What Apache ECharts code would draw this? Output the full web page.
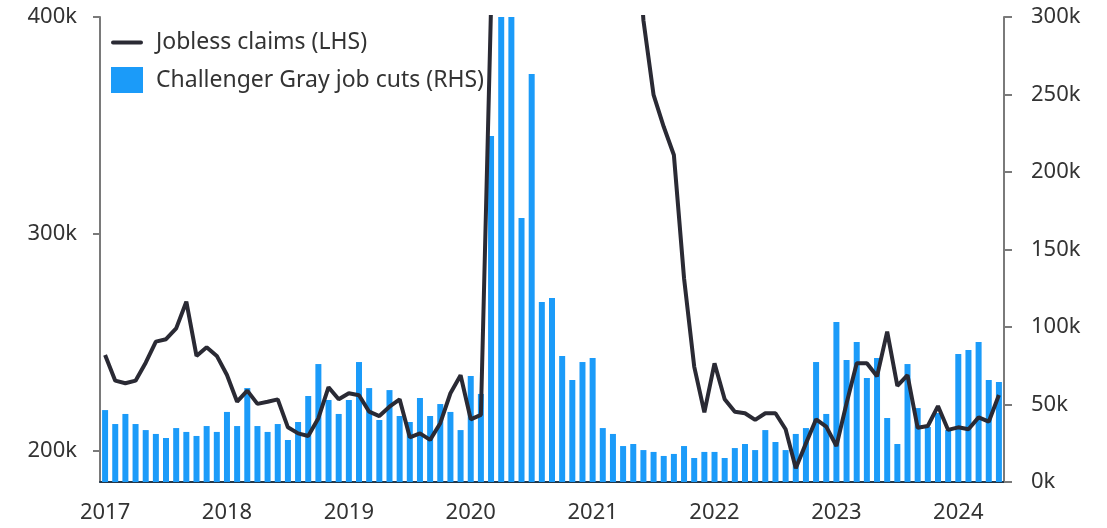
<!DOCTYPE html>
<html>
<head>
<meta charset="utf-8">
<script src="https://cdn.jsdelivr.net/npm/echarts@6/dist/echarts.min.js"></script>
<style>
  html, body { margin: 0; padding: 0; background: #fff; }
  #chart { width: 1107px; height: 528px; }
</style>
</head>
<body>
<div id="chart"></div>
<script>
// monthly, Jan 2017 - May 2024
const years = ["2017", "2018", "2019", "2020", "2021", "2022", "2023", "2024"];
const months = [];
years.forEach(function (y) {
  for (let m = 1; m <= 12; m++) {
    if (y === "2024" && m > 5) break;
    months.push(y + "-" + (m < 10 ? "0" + m : m));
  }
});

// jobless claims, monthly avg (LHS), thousands
const joblessClaims = [
  244.2, 232.4, 231.2, 232.4, 240.7, 250.4, 251.5, 256.5, 268.8, 243.8, 247.8, 243.8,
  235.0, 222.7, 227.8, 221.7, 222.7, 223.8, 210.9, 208.1, 206.9, 215.1, 229.4, 223.8,
  226.6, 225.7, 218.1, 216.1, 220.4, 223.8, 206.3, 208.1, 205.1, 212.8, 226.6, 234.9,
  214.6, 216.6, 405, 4500, 2600, 1500, 1350, 1050, 880, 780, 740, 830,
  850, 790, 720, 590, 470, 398.5, 364.1, 349.4, 336.4, 279.6, 238.9, 217.8,
  240.4, 223.8, 218.1, 217.4, 214.3, 217.4, 217.4, 210.0, 192.0, 203.5, 214.6, 211.2,
  202.3, 222.0, 240.4, 240.4, 234.4, 255.0, 230.0, 235.0, 210.7, 211.5, 220.7, 209.7,
  210.9, 210.0, 215.5, 213.5, 225.8
];

// challenger gray job cuts (RHS), thousands
const jobCuts = [
  46.4, 37.4, 43.9, 37.4, 33.5, 31.0, 28.4, 34.8, 32.3, 29.7, 36.1, 32.3,
  45.2, 36.1, 60.6, 36.1, 32.3, 37.4, 27.1, 38.7, 55.5, 76.1, 52.9, 43.9,
  52.9, 77.4, 60.6, 40.0, 59.3, 42.6, 38.7, 54.2, 42.6, 50.3, 45.2, 33.5,
  68.4, 56.8, 223.2, 671, 397, 170.3, 263.2, 116.1, 118.7, 81.3, 65.8, 77.4,
  80.0, 34.8, 31.0, 23.2, 24.5, 20.6, 19.4, 16.8, 18.1, 23.2, 15.5, 19.4,
  19.4, 15.5, 21.9, 24.5, 20.6, 33.5, 25.8, 20.6, 31.0, 34.8, 77.4, 43.9,
  103.2, 78.7, 90.3, 67.1, 80.0, 41.3, 24.5, 76.1, 47.7, 35.5, 44.5, 33.5,
  82.6, 85.1, 90.3, 65.8, 64.5
];

const leftTicks = [200, 300, 400];

const chart = echarts.init(document.getElementById("chart"));
const font = "'Noto Sans', sans-serif";

chart.setOption({
  animation: false,
  textStyle: { fontFamily: font },
  grid: { left: 100, right: 103, top: 17, bottom: 46, containLabel: false },
  legend: {
    orient: "vertical",
    left: 111,
    top: 31,
    padding: 0,
    itemWidth: 32,
    itemHeight: 26,
    itemGap: 13,
    textStyle: { fontSize: 23, color: "#333", fontFamily: font, padding: [0, 0, 0, 8] },
    data: [
      { name: "Jobless claims (LHS)", icon: "path://M2,0 L30,0 A2,2 0 0 1 30,4 L2,4 A2,2 0 0 1 2,0 Z" },
      { name: "Challenger Gray job cuts (RHS)", icon: "rect" }
    ]
  },
  xAxis: {
    type: "category",
    data: months,
    boundaryGap: true,
    axisLine: { lineStyle: { color: "#22374a", width: 2 } },
    axisTick: { interval: 0, length: 7, lineStyle: { color: "#7a7a7a", width: 2 } },
    axisLabel: {
      interval: function (i) { return i % 12 === 0; },
      formatter: function (v) { return v.slice(0, 4); },
      fontSize: 22,
      color: "#333",
      margin: 20
    }
  },
  yAxis: [
    {
      type: "value",
      min: 185.7,
      max: 400,
      splitLine: { show: false },
      axisLine: { show: true, lineStyle: { color: "#7a7a7a", width: 2 } },
      axisTick: { show: true, length: 7, customValues: leftTicks, lineStyle: { color: "#7a7a7a", width: 2 } },
      axisLabel: {
        customValues: leftTicks,
        formatter: function (v) { return v + "k"; },
        fontSize: 22,
        color: "#333",
        margin: 23
      }
    },
    {
      type: "value",
      min: 0,
      max: 300,
      interval: 50,
      position: "right",
      splitLine: { show: false },
      axisLine: { show: true, lineStyle: { color: "#7a7a7a", width: 2 } },
      axisTick: { show: true, length: 8, lineStyle: { color: "#7a7a7a", width: 2 } },
      axisLabel: {
        formatter: function (v) { return v + "k"; },
        fontSize: 22,
        color: "#333",
        margin: 27
      }
    }
  ],
  series: [
    {
      name: "Challenger Gray job cuts (RHS)",
      type: "bar",
      yAxisIndex: 1,
      data: jobCuts,
      barWidth: 6,
      itemStyle: { color: "#1b9bf9" },
      clip: true,
      z: 2
    },
    {
      name: "Jobless claims (LHS)",
      type: "line",
      yAxisIndex: 0,
      data: joblessClaims,
      symbol: "none",
      clip: true,
      lineStyle: { color: "#2a2a34", width: 4 },
      itemStyle: { color: "#2a2a34" },
      z: 3
    }
  ]
});
</script>
</body>
</html>
